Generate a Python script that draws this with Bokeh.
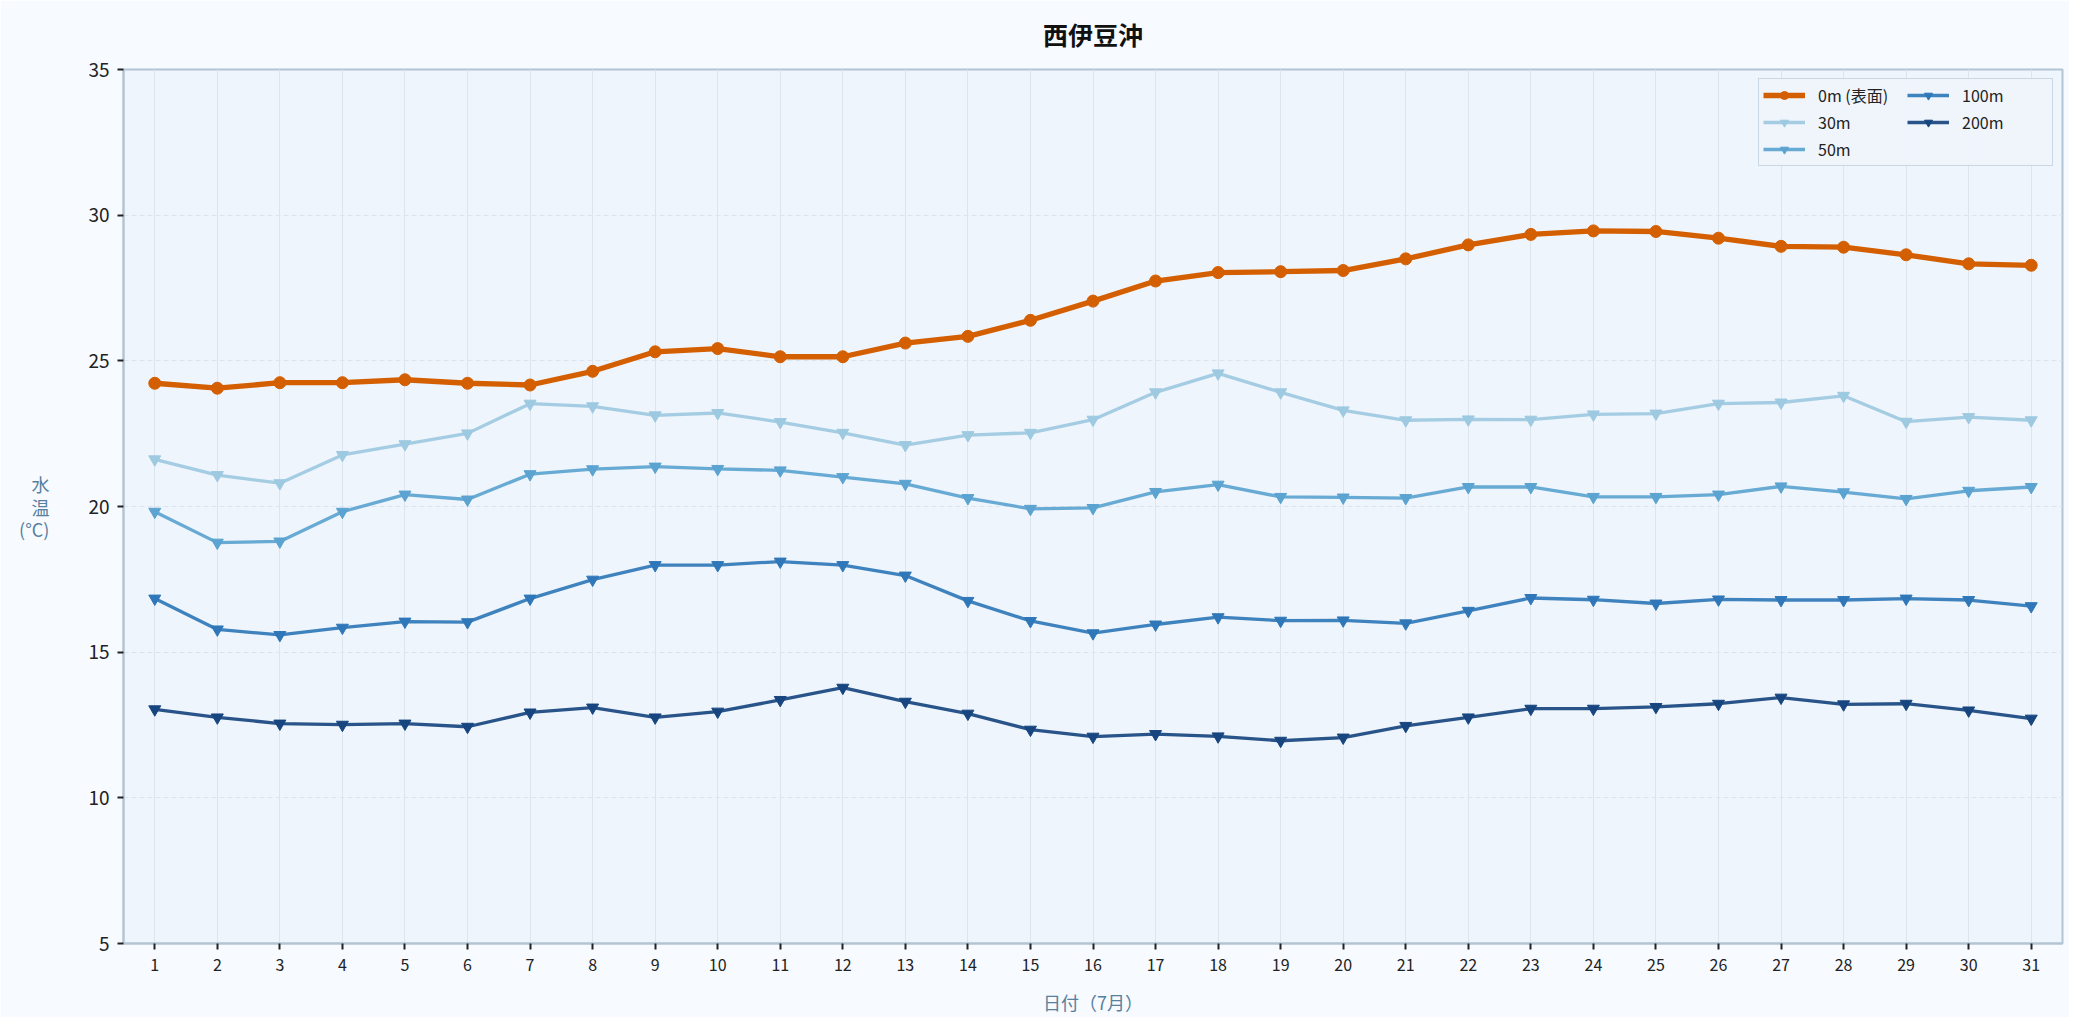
from bokeh.plotting import figure
from bokeh.models import FixedTicker
from bokeh.embed import file_html
from bokeh.resources import INLINE

# 西伊豆沖 7月の水温 (°C)
days = list(range(1, 32))
temp_0m = [24.23, 24.06, 24.25, 24.25, 24.35, 24.23, 24.17, 24.64, 25.31, 25.42,
           25.14, 25.14, 25.61, 25.84, 26.39, 27.05, 27.74, 28.03, 28.06, 28.10,
           28.50, 28.98, 29.34, 29.46, 29.44, 29.21, 28.93, 28.90, 28.64, 28.33, 28.28]
temp_30m = [21.62, 21.08, 20.80, 21.77, 22.14, 22.51, 23.53, 23.44, 23.13, 23.21,
            22.90, 22.53, 22.11, 22.45, 22.53, 22.98, 23.92, 24.57, 23.92, 23.30,
            22.96, 22.99, 22.98, 23.16, 23.19, 23.53, 23.57, 23.80, 22.91, 23.07, 22.96]
temp_50m = [19.82, 18.76, 18.80, 19.82, 20.41, 20.24, 21.11, 21.28, 21.37, 21.29,
            21.24, 21.01, 20.78, 20.29, 19.92, 19.95, 20.50, 20.75, 20.33, 20.31,
            20.29, 20.67, 20.67, 20.33, 20.33, 20.41, 20.69, 20.49, 20.26, 20.54, 20.67]
temp_100m = [16.84, 15.78, 15.59, 15.84, 16.05, 16.03, 16.84, 17.49, 17.99, 17.99,
             18.11, 17.99, 17.63, 16.76, 16.07, 15.65, 15.95, 16.20, 16.08, 16.09,
             15.99, 16.42, 16.86, 16.80, 16.67, 16.81, 16.79, 16.79, 16.84, 16.79, 16.58]
temp_200m = [13.04, 12.76, 12.55, 12.51, 12.55, 12.44, 12.93, 13.10, 12.76, 12.96,
             13.36, 13.78, 13.30, 12.89, 12.34, 12.10, 12.19, 12.11, 11.96, 12.07,
             12.47, 12.76, 13.06, 13.06, 13.12, 13.23, 13.44, 13.21, 13.23, 13.00, 12.72]
y_ticks = [5, 10, 15, 20, 25, 30, 35]

FONT = "Noto Sans CJK JP"

p = figure(width=2069, height=1017, x_range=(0.5, 31.5), y_range=(5, 35),
           title="西伊豆沖", output_backend="svg", toolbar_location=None,
           min_border_left=123, min_border_right=7, min_border_top=69, min_border_bottom=67)
p.border_fill_color = "#f7fafe"
p.background_fill_color = "#eff5fc"
p.outline_line_color = "#b3c4d4"
p.outline_line_width = 2

p.title.align = "center"
p.title.vertical_align = "top"
p.title.text_font = FONT
p.title.text_font_size = "25px"
p.title.text_font_style = "bold"
p.title.text_color = "#111111"
p.title.standoff = 31

# axes
p.xaxis.ticker = FixedTicker(ticks=days)
p.yaxis.ticker = FixedTicker(ticks=y_ticks)
for ax in (p.xaxis, p.yaxis):
    ax.axis_line_color = "#b3c4d4"
    ax.axis_line_width = 2
    ax.major_tick_in = 0
    ax.major_tick_out = 6
    ax.major_tick_line_width = 2
    ax.major_tick_line_color = "#222222"
    ax.minor_tick_out = 0
    ax.minor_tick_in = 0
    ax.major_label_text_color = "#222222"
    ax.major_label_text_font = FONT
    ax.axis_label_text_font = FONT
    ax.axis_label_text_font_style = "normal"
    ax.axis_label_text_color = "#56809f"
p.xaxis.major_label_text_font_size = "16px"
p.yaxis.major_label_text_font_size = "19px"
p.xaxis.major_label_standoff = 9
p.yaxis.major_label_standoff = 8

p.xaxis.axis_label = "日付（7月）"
p.xaxis.axis_label_text_font_size = "18px"
p.xaxis.axis_label_standoff = 15
p.yaxis.axis_label = "水\n温\n(°C)"
p.yaxis.axis_label_text_font_size = "18px"
p.yaxis.axis_label_orientation = "horizontal"
p.yaxis.axis_label_standoff = 36
p.yaxis.axis_label_text_line_height = 0.85

p.xgrid.grid_line_color = "#dce4ee"
p.ygrid.grid_line_color = "#dce4ee"
p.ygrid.grid_line_dash = "5 3"

# 0m (surface)
p.line(days, temp_0m, line_color="#d45f00", line_width=5.3, legend_label="0m (表面)")
p.scatter(days, temp_0m, marker="circle", size=12, color="#d45f00", legend_label="0m (表面)")

series = [("30m", temp_30m, "#9dc9e1"),
          ("50m", temp_50m, "#5ba3d0"),
          ("100m", temp_100m, "#2f77b8"),
          ("200m", temp_200m, "#17457f")]
for name, vals, col in series:
    p.line(days, vals, line_color=col, line_width=3.3, line_alpha=0.92, legend_label=name)
    p.scatter(days, vals, marker="inverted_triangle", size=12, color=col, legend_label=name)

leg = p.legend[0]
leg.location = "top_right"
leg.orientation = "vertical"
leg.nrows = 3
leg.margin = 9
leg.padding = 4
leg.spacing = 3
leg.glyph_width = 42
leg.glyph_height = 20
leg.label_standoff = 13
leg.label_width = 86
leg.label_text_font = FONT
leg.label_text_font_size = "16px"
leg.label_text_color = "#222222"
leg.background_fill_color = "#eef4fb"
leg.background_fill_alpha = 0.95
leg.border_line_color = "#a5b9ca"
leg.border_line_width = 1.5

open("out.html", "w").write(file_html(p, INLINE))
